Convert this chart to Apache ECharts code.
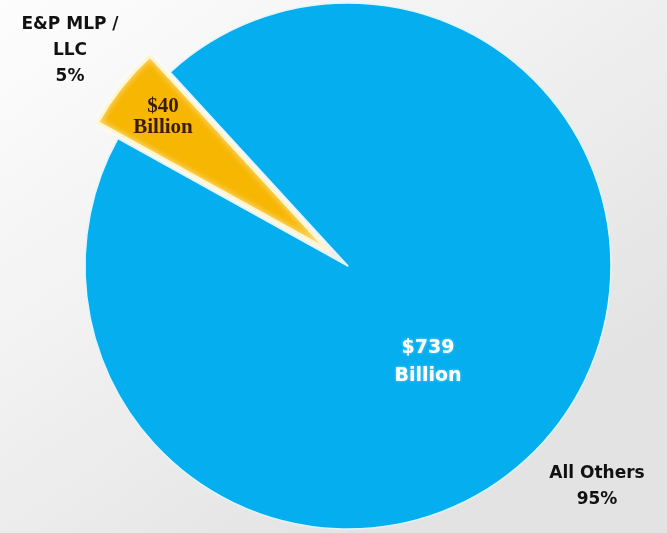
<!DOCTYPE html>
<html>
<head>
<meta charset="utf-8">
<title>E&amp;P MLP / LLC share</title>
<script src="https://cdn.jsdelivr.net/npm/echarts@6/dist/echarts.min.js"></script>
<style>
  html, body { margin: 0; padding: 0; }
  #chart { width: 667px; height: 533px; }
</style>
</head>
<body>
<div id="chart"></div>
<script>
// Segment names and market values ($ billion)
const segmentNames = ['E&P MLP /\nLLC', 'All Others'];
const segmentValues = [40, 739];
const segmentColors = ['#f7b602', '#05aeee'];

// Label anchor points (px) for the in-slice value labels and the outer name labels
const valueLabelPos = [[163, 117], [428, 362]];
const nameLabelPos = [[70, 51], [597, 487]];

const chart = echarts.init(document.getElementById('chart'), null, { renderer: 'canvas' });

const pieCenter = [348, 266];
const pieRadius = 263;
const pieStart = 151;

const borderColors = ['#fff6cf', '#dff6ff'];
const borderWidths = [3, 1.5];

const sliceData = segmentNames.map((name, i) => {
  const style = {
    color: segmentColors[i],
    borderColor: borderColors[i],
    borderWidth: borderWidths[i]
  };
  return {
    name: name,
    value: segmentValues[i],
    selected: i === 0,
    itemStyle: Object.assign({
      shadowColor: i === 0 ? 'rgba(255,255,255,0.9)' : 'rgba(0,0,0,0)',
      shadowBlur: i === 0 ? 6 : 0
    }, style),
    select: { itemStyle: style }
  };
});

// Shared settings for the transparent label-carrying twins of the pie
function labelTwin(label, positions) {
  return {
    type: 'pie',
    center: pieCenter,
    radius: pieRadius,
    startAngle: pieStart,
    clockwise: true,
    silent: true,
    emphasis: { disabled: true },
    itemStyle: { color: 'rgba(0,0,0,0)', borderWidth: 0 },
    label: Object.assign({ show: true, overflow: 'none' }, label),
    labelLine: { show: false },
    labelLayout: p => ({
      x: positions[p.dataIndex][0],
      y: positions[p.dataIndex][1],
      align: 'center',
      verticalAlign: 'middle'
    }),
    data: segmentNames.map((name, i) => ({
      name: name,
      value: segmentValues[i],
      label: label.perItem ? label.perItem[i] : {}
    }))
  };
}

const valueLabels = labelTwin({
  position: 'inside',
  formatter: p => '$' + p.value + '\nBillion',
  perItem: [
    {
      color: '#3a1c05',
      fontFamily: '"Liberation Serif", "Times New Roman", serif',
      fontWeight: 'bold',
      fontSize: 21,
      lineHeight: 21
    },
    {
      color: '#ffffff',
      fontFamily: '"DejaVu Sans", sans-serif',
      fontWeight: 'bold',
      fontSize: 19,
      lineHeight: 28,
      textShadowColor: 'rgba(200,240,255,0.6)',
      textShadowBlur: 3
    }
  ]
}, valueLabelPos);

const nameLabels = labelTwin({
  position: 'outside',
  color: '#111111',
  fontFamily: '"DejaVu Sans", sans-serif',
  fontWeight: 'bold',
  fontSize: 17,
  lineHeight: 26,
  align: 'center',
  formatter: p => p.name + '\n' + Math.round(p.percent) + '%'
}, nameLabelPos);

const option = {
  backgroundColor: {
    type: 'linear', x: 0, y: 0, x2: 0.55, y2: 1,
    colorStops: [
      { offset: 0, color: '#fdfdfd' },
      { offset: 0.5, color: '#f1f1f1' },
      { offset: 1, color: '#e3e3e3' }
    ]
  },
  animation: false,
  series: [
    {
      type: 'pie',
      center: pieCenter,
      radius: pieRadius,
      startAngle: pieStart,
      clockwise: true,
      selectedMode: 'single',
      selectedOffset: 26,
      silent: true,
      emphasis: { disabled: true },
      label: { show: false },
      labelLine: { show: false },
      data: sliceData
    },
    valueLabels,
    nameLabels
  ]
};

chart.setOption(option);
</script>
</body>
</html>
